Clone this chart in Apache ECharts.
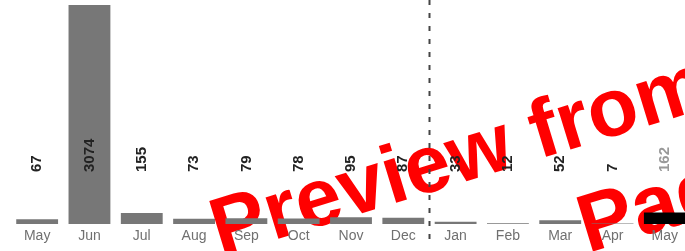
<!DOCTYPE html>
<html>
<head>
<meta charset="utf-8">
<script src="https://cdn.jsdelivr.net/npm/echarts@6/dist/echarts.min.js"></script>
<style>
html, body { margin: 0; padding: 0; background: #fff; overflow: hidden; }
#main { width: 691px; height: 251px; }
</style>
</head>
<body>
<div id="main"></div>
<script>
// monthly counts, May to May
var months = ['May', 'Jun', 'Jul', 'Aug', 'Sep', 'Oct', 'Nov', 'Dec', 'Jan', 'Feb', 'Mar', 'Apr', 'May'];
var counts = [67, 3074, 155, 73, 79, 78, 95, 87, 33, 12, 52, 7, 162];
var dividerAfter = 7; // line between Dec and Jan
var watermarkLines = ['Preview from', 'Page'];

var myChart = echarts.init(document.getElementById('main'));

var seriesData = counts.map(function (v, i) {
    if (i == counts.length - 1) {
        return { value: v, itemStyle: { color: '#000' }, label: { color: '#999' } };
    }
    return v;
});

var option = {
    animation: false,
    grid: { left: 11, right: 0, top: 5, bottom: 27 },
    xAxis: {
        type: 'category',
        data: months,
        axisLine: { show: false },
        axisTick: { show: false },
        axisLabel: {
            color: '#707070',
            fontSize: 14,
            fontFamily: 'Liberation Sans',
            margin: 5
        }
    },
    yAxis: {
        type: 'value',
        min: 0,
        max: 'dataMax',
        show: false,
        splitLine: { show: false }
    },
    series: [
        {
            type: 'bar',
            data: seriesData,
            barCategoryGap: '20%',
            itemStyle: { color: '#777777' },
            label: {
                show: true,
                position: 'insideBottom',
                distance: 52,
                rotate: 90,
                align: 'left',
                verticalAlign: 'middle',
                color: '#222',
                fontSize: 15,
                fontWeight: 'bold',
                fontFamily: 'Liberation Sans'
            }
        }
    ]
};
myChart.setOption(option);

// divider between the two years, placed from the axis scale
var x1 = myChart.convertToPixel({ xAxisIndex: 0 }, dividerAfter);
var x2 = myChart.convertToPixel({ xAxisIndex: 0 }, dividerAfter + 1);
var divX = Math.round((x1 + x2) / 2) + 0.5;
var rot = 17 * Math.PI / 180;

myChart.setOption({
    graphic: [
        {
            type: 'line',
            z: 10,
            shape: { x1: divX, y1: 0, x2: divX, y2: 240 },
            style: { stroke: '#444', lineWidth: 2, lineDash: [5, 8] }
        },
        {
            type: 'group',
            x: 226,
            y: 274,
            rotation: rot,
            z: 100,
            children: [
                {
                    type: 'text',
                    x: 0,
                    y: 0,
                    style: {
                        text: watermarkLines[0],
                        fill: '#ff0000',
                        font: 'bold 82px "Liberation Sans"',
                        textAlign: 'left',
                        textVerticalAlign: 'bottom'
                    }
                },
                {
                    type: 'text',
                    x: 352,
                    y: 104,
                    style: {
                        text: watermarkLines[1],
                        fill: '#ff0000',
                        font: 'bold 82px "Liberation Sans"',
                        textAlign: 'left',
                        textVerticalAlign: 'bottom'
                    }
                }
            ]
        }
    ]
});
</script>
</body>
</html>
